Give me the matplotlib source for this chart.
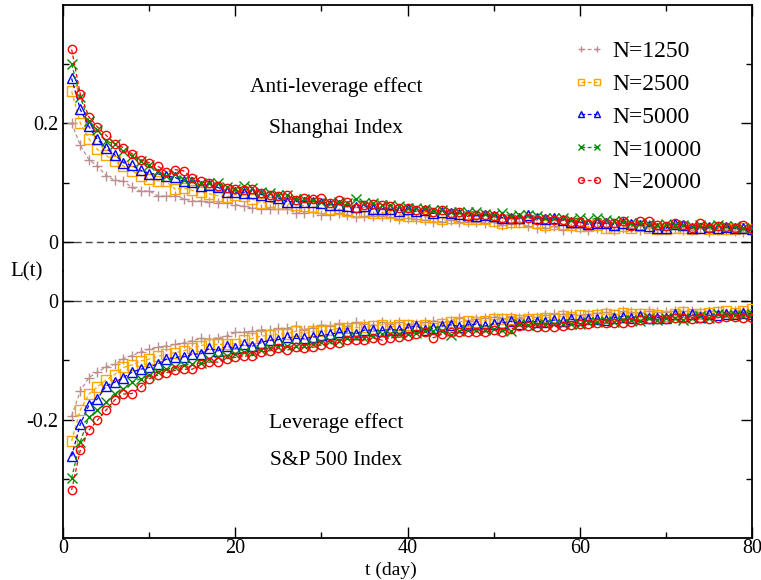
import numpy as np
import matplotlib
matplotlib.use('Agg')
from matplotlib import pyplot as plt

t = np.arange(1, 81)

labels = ['N=1250', 'N=2500', 'N=5000', 'N=10000', 'N=20000']

# Shanghai Index, L(t) for each N
sh_1250 = [0.201, 0.163, 0.139, 0.128, 0.112, 0.104, 0.103, 0.092, 0.086, 0.086,
           0.078, 0.077, 0.078, 0.073, 0.069, 0.069, 0.068, 0.066, 0.066, 0.063,
           0.060, 0.057, 0.056, 0.056, 0.055, 0.056, 0.049, 0.049, 0.050, 0.046,
           0.046, 0.049, 0.046, 0.042, 0.043, 0.044, 0.044, 0.042, 0.038, 0.040,
           0.038, 0.037, 0.034, 0.034, 0.037, 0.034, 0.033, 0.033, 0.032, 0.033,
           0.029, 0.030, 0.032, 0.026, 0.023, 0.024, 0.026, 0.020, 0.023, 0.024,
           0.020, 0.023, 0.023, 0.020, 0.023, 0.023, 0.020, 0.023, 0.020, 0.020,
           0.023, 0.020, 0.020, 0.023, 0.017, 0.020, 0.020, 0.018, 0.017, 0.017]
sh_2500 = [0.254, 0.201, 0.174, 0.156, 0.146, 0.136, 0.128, 0.120, 0.112, 0.107,
           0.103, 0.102, 0.089, 0.091, 0.087, 0.084, 0.081, 0.078, 0.076, 0.080,
           0.077, 0.072, 0.066, 0.067, 0.064, 0.064, 0.063, 0.061, 0.059, 0.057,
           0.055, 0.055, 0.052, 0.050, 0.050, 0.048, 0.049, 0.049, 0.046, 0.044,
           0.043, 0.042, 0.042, 0.039, 0.040, 0.040, 0.039, 0.039, 0.039, 0.036,
           0.032, 0.033, 0.034, 0.034, 0.032, 0.029, 0.030, 0.030, 0.028, 0.026,
           0.026, 0.028, 0.023, 0.024, 0.026, 0.024, 0.026, 0.023, 0.022, 0.021,
           0.023, 0.023, 0.022, 0.023, 0.021, 0.022, 0.021, 0.021, 0.023, 0.021]
sh_5000 = [0.276, 0.224, 0.195, 0.173, 0.158, 0.147, 0.134, 0.129, 0.121, 0.115,
           0.115, 0.111, 0.109, 0.102, 0.101, 0.095, 0.096, 0.092, 0.085, 0.084,
           0.083, 0.083, 0.080, 0.077, 0.074, 0.068, 0.068, 0.068, 0.068, 0.066,
           0.062, 0.063, 0.061, 0.059, 0.061, 0.055, 0.056, 0.055, 0.052, 0.055,
           0.052, 0.053, 0.048, 0.050, 0.049, 0.047, 0.045, 0.044, 0.045, 0.043,
           0.041, 0.040, 0.040, 0.045, 0.040, 0.039, 0.040, 0.037, 0.034, 0.033,
           0.030, 0.032, 0.032, 0.029, 0.032, 0.030, 0.029, 0.026, 0.024, 0.023,
           0.030, 0.028, 0.023, 0.023, 0.025, 0.023, 0.025, 0.023, 0.023, 0.021]
sh_10000 = [0.300, 0.245, 0.204, 0.189, 0.170, 0.166, 0.153, 0.145, 0.136, 0.129,
            0.119, 0.111, 0.114, 0.105, 0.105, 0.100, 0.100, 0.099, 0.093, 0.089,
            0.094, 0.091, 0.085, 0.083, 0.080, 0.080, 0.072, 0.072, 0.070, 0.067,
            0.066, 0.067, 0.066, 0.072, 0.065, 0.066, 0.063, 0.062, 0.061, 0.058,
            0.057, 0.055, 0.053, 0.053, 0.051, 0.051, 0.050, 0.051, 0.047, 0.045,
            0.049, 0.043, 0.045, 0.045, 0.043, 0.041, 0.041, 0.040, 0.037, 0.041,
            0.037, 0.040, 0.037, 0.036, 0.035, 0.032, 0.032, 0.030, 0.029, 0.030,
            0.029, 0.028, 0.026, 0.028, 0.026, 0.028, 0.026, 0.026, 0.023, 0.024]
sh_20000 = [0.325, 0.250, 0.211, 0.194, 0.180, 0.166, 0.159, 0.149, 0.139, 0.134,
            0.128, 0.118, 0.122, 0.120, 0.108, 0.102, 0.099, 0.095, 0.091, 0.089,
            0.087, 0.089, 0.083, 0.080, 0.078, 0.080, 0.070, 0.074, 0.072, 0.074,
            0.066, 0.070, 0.067, 0.057, 0.063, 0.064, 0.063, 0.061, 0.057, 0.058,
            0.054, 0.053, 0.051, 0.053, 0.049, 0.050, 0.043, 0.046, 0.045, 0.044,
            0.041, 0.039, 0.039, 0.041, 0.037, 0.039, 0.037, 0.037, 0.034, 0.033,
            0.030, 0.032, 0.032, 0.032, 0.036, 0.026, 0.035, 0.036, 0.028, 0.026,
            0.032, 0.028, 0.023, 0.032, 0.023, 0.026, 0.025, 0.023, 0.028, 0.022]

# S&P 500 Index, L(t) for each N
sp_1250 = [-0.194, -0.152, -0.129, -0.120, -0.111, -0.107, -0.097, -0.092, -0.086, -0.081,
           -0.078, -0.076, -0.073, -0.070, -0.067, -0.063, -0.064, -0.062, -0.059, -0.053,
           -0.052, -0.051, -0.048, -0.049, -0.046, -0.046, -0.042, -0.048, -0.045, -0.040,
           -0.042, -0.039, -0.042, -0.036, -0.039, -0.040, -0.036, -0.039, -0.036, -0.038,
           -0.039, -0.036, -0.033, -0.036, -0.033, -0.029, -0.033, -0.031, -0.028, -0.026,
           -0.028, -0.026, -0.028, -0.025, -0.026, -0.024, -0.022, -0.022, -0.022, -0.024,
           -0.022, -0.020, -0.019, -0.021, -0.017, -0.019, -0.020, -0.017, -0.019, -0.019,
           -0.017, -0.017, -0.017, -0.019, -0.017, -0.017, -0.020, -0.017, -0.017, -0.019]
sp_2500 = [-0.236, -0.184, -0.157, -0.145, -0.133, -0.124, -0.112, -0.108, -0.101, -0.098,
           -0.093, -0.090, -0.087, -0.084, -0.079, -0.075, -0.073, -0.073, -0.073, -0.072,
           -0.066, -0.063, -0.059, -0.058, -0.056, -0.055, -0.051, -0.055, -0.051, -0.051,
           -0.049, -0.046, -0.046, -0.045, -0.044, -0.042, -0.040, -0.044, -0.040, -0.040,
           -0.042, -0.040, -0.045, -0.039, -0.036, -0.035, -0.033, -0.035, -0.033, -0.031,
           -0.031, -0.030, -0.032, -0.030, -0.031, -0.028, -0.028, -0.025, -0.026, -0.024,
           -0.025, -0.024, -0.022, -0.024, -0.020, -0.022, -0.022, -0.022, -0.024, -0.025,
           -0.022, -0.019, -0.021, -0.022, -0.020, -0.019, -0.017, -0.020, -0.017, -0.014]
sp_5000 = [-0.262, -0.208, -0.176, -0.165, -0.143, -0.137, -0.129, -0.120, -0.115, -0.112,
           -0.106, -0.098, -0.095, -0.094, -0.090, -0.089, -0.080, -0.084, -0.076, -0.080,
           -0.073, -0.076, -0.070, -0.066, -0.065, -0.061, -0.063, -0.063, -0.061, -0.058,
           -0.056, -0.053, -0.052, -0.055, -0.049, -0.049, -0.050, -0.048, -0.049, -0.045,
           -0.042, -0.048, -0.046, -0.042, -0.040, -0.043, -0.040, -0.039, -0.042, -0.038,
           -0.037, -0.034, -0.038, -0.034, -0.035, -0.035, -0.032, -0.034, -0.031, -0.032,
           -0.030, -0.030, -0.032, -0.028, -0.026, -0.028, -0.025, -0.028, -0.028, -0.028,
           -0.022, -0.025, -0.022, -0.026, -0.021, -0.024, -0.022, -0.022, -0.020, -0.022]
sp_10000 = [-0.299, -0.238, -0.196, -0.184, -0.171, -0.156, -0.148, -0.137, -0.131, -0.125,
            -0.119, -0.115, -0.112, -0.108, -0.106, -0.105, -0.097, -0.094, -0.092, -0.089,
            -0.086, -0.087, -0.083, -0.079, -0.078, -0.076, -0.076, -0.075, -0.072, -0.069,
            -0.068, -0.067, -0.063, -0.061, -0.062, -0.059, -0.056, -0.056, -0.056, -0.055,
            -0.054, -0.051, -0.050, -0.051, -0.058, -0.050, -0.049, -0.049, -0.048, -0.047,
            -0.049, -0.051, -0.039, -0.041, -0.041, -0.039, -0.038, -0.039, -0.038, -0.038,
            -0.036, -0.036, -0.034, -0.035, -0.032, -0.032, -0.034, -0.028, -0.032, -0.028,
            -0.028, -0.032, -0.028, -0.025, -0.028, -0.022, -0.024, -0.024, -0.025, -0.022]
sp_20000 = [-0.319, -0.252, -0.218, -0.201, -0.184, -0.167, -0.157, -0.156, -0.145, -0.131,
            -0.125, -0.121, -0.117, -0.115, -0.115, -0.107, -0.103, -0.103, -0.097, -0.095,
            -0.093, -0.092, -0.086, -0.084, -0.080, -0.083, -0.078, -0.079, -0.078, -0.074,
            -0.072, -0.070, -0.065, -0.065, -0.066, -0.062, -0.066, -0.062, -0.061, -0.059,
            -0.056, -0.052, -0.062, -0.056, -0.053, -0.053, -0.052, -0.052, -0.052, -0.048,
            -0.052, -0.047, -0.042, -0.042, -0.043, -0.043, -0.043, -0.042, -0.041, -0.039,
            -0.039, -0.037, -0.037, -0.037, -0.037, -0.035, -0.032, -0.031, -0.031, -0.030,
            -0.028, -0.028, -0.030, -0.028, -0.030, -0.028, -0.026, -0.026, -0.028, -0.028]

colors = ['#bc8f8f', '#ffa500', '#0000ff', '#008b00', '#ff0000']
markers = ['+', 's', '^', 'x', 'o']

plt.rcParams['font.family'] = ['Liberation Serif', 'DejaVu Serif']

fig = plt.figure(figsize=(7.61, 5.80), dpi=100)
ax1 = fig.add_axes([0.0828, 0.5319, 0.9054, 0.4595])
ax2 = fig.add_axes([0.0828, 0.0724, 0.9054, 0.4595])

sh = [sh_1250, sh_2500, sh_5000, sh_10000, sh_20000]
sp = [sp_1250, sp_2500, sp_5000, sp_10000, sp_20000]

for ax, series in [(ax1, sh), (ax2, sp)]:
    ax.axhline(0, color='#444444', ls=(0, (5, 3)), lw=1.0, zorder=1)
    for i in range(5):
        ax.plot(t, series[i], ls=(0, (3, 2)), lw=0.9, color=colors[i],
                marker=markers[i], ms=6.5 if markers[i] != 'o' else 6,
                mfc='none', mec=colors[i], mew=1.0, label=labels[i], zorder=2 + i)
    ax.set_xlim(0, 80)
    ax.tick_params(axis='both', which='both', direction='in', labelsize=14.5,
                   left=True, right=True, width=1.0)
    ax.tick_params(which='major', length=8)
    ax.tick_params(which='minor', length=4)
    ax.set_xticks([0, 20, 40, 60, 80])
    ax.set_xticks([10, 30, 50, 70], minor=True)
    for s in ax.spines.values():
        s.set_linewidth(1.3)

ax1.set_ylim(-0.05, 0.4)
ax1.set_yticks([0, 0.2])
ax1.set_yticklabels(['0', '0.2'])
ax1.set_yticks([0.1, 0.3], minor=True)
ax1.spines['bottom'].set_visible(False)
ax1.tick_params(axis='x', which='both', bottom=False, top=True, labelbottom=False)

ax2.set_ylim(-0.4, 0.05)
ax2.set_yticks([-0.2, 0])
ax2.set_yticklabels(['-0.2', '0'])
ax2.set_yticks([-0.3, -0.1], minor=True)
ax2.spines['top'].set_visible(False)
ax2.tick_params(axis='x', which='both', bottom=True, top=False, pad=1)
ax2.set_xticklabels(['0', '20', '40', '60', '80'])

ax1.text(31.7, 0.261, 'Anti-leverage effect', ha='center', va='center', fontsize=15.5)
ax1.text(31.7, 0.192, 'Shanghai Index', ha='center', va='center', fontsize=15.5)
ax2.text(31.7, -0.206, 'Leverage effect', ha='center', va='center', fontsize=15.5)
ax2.text(31.7, -0.269, 'S&P 500 Index', ha='center', va='center', fontsize=15.5)

ax1.legend(loc='upper left', bbox_to_anchor=(0.741, 0.867), frameon=False, fontsize=17,
           handlelength=1.3, handletextpad=0.35, labelspacing=0.48, numpoints=2,
           markerscale=0.7, borderaxespad=0, borderpad=0)

fig.text(27 / 761, 1 - 272 / 580, 'L(t)', ha='center', va='center', fontsize=15)
fig.text(391 / 761, 1 - 570 / 580, 't (day)', ha='center', va='center', fontsize=14)

plt.savefig('out.png', dpi=100)
